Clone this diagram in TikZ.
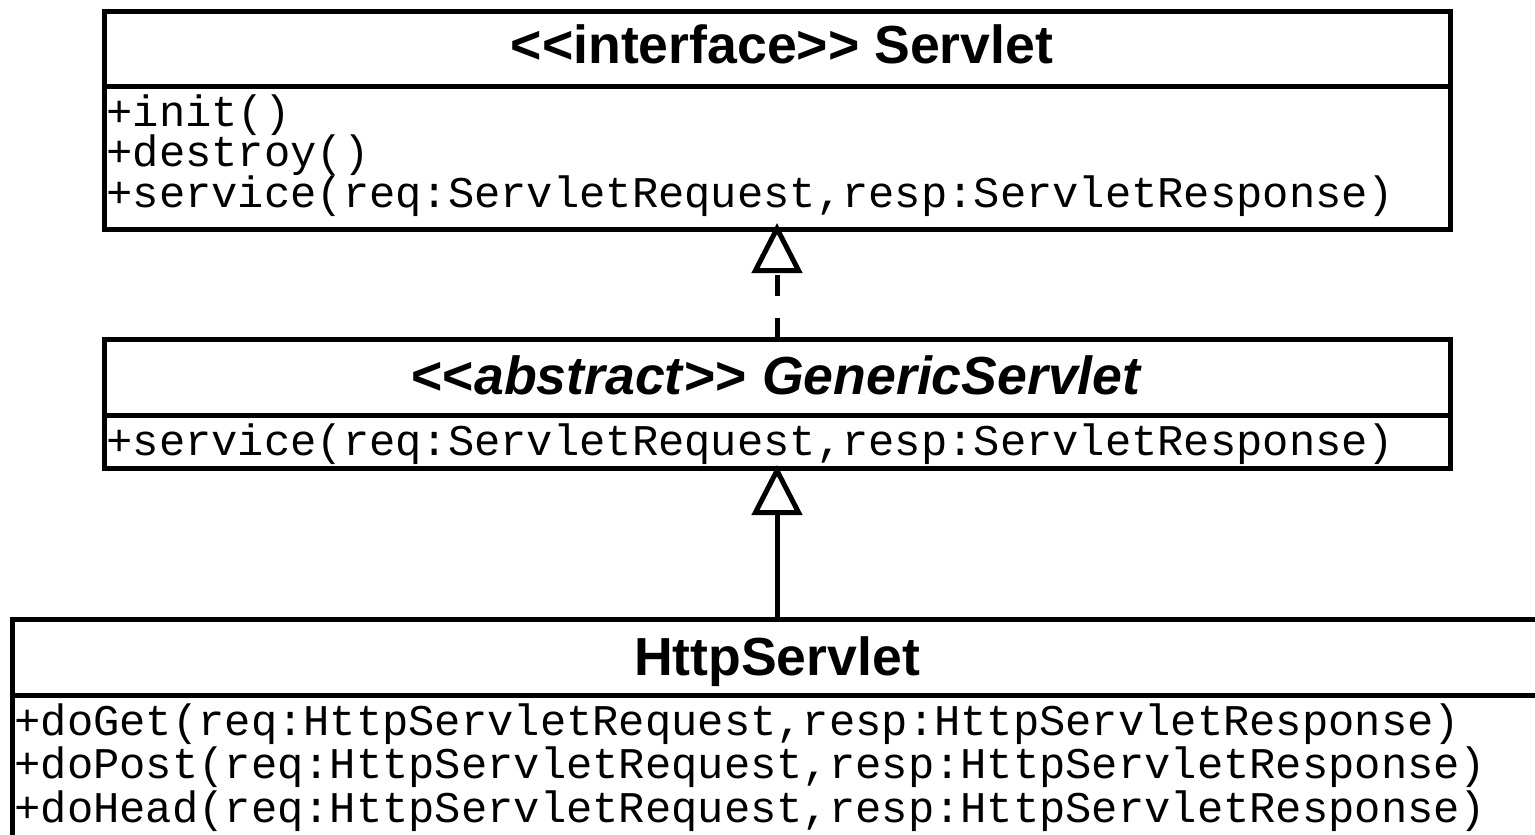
\documentclass[tikz,border=0pt]{standalone}
\usepackage{fontspec}
\setmainfont{Liberation Sans}
\newfontfamily\umlmono{Liberation Mono}
\usetikzlibrary{arrows.meta}
\newcommand{\lguil}{\mbox{<}\mbox{<}}
\newcommand{\rguil}{\mbox{>}\mbox{>}}
\tikzset{
  comp/.style={draw=black, line width=5pt, fill=white, inner sep=0pt, outer sep=0pt},
  titletext/.style={inner sep=0pt, outer sep=0pt, font=\fontsize{53.6}{60}\selectfont\bfseries},
  member/.style={inner sep=0pt, outer sep=0pt, anchor=base west, font=\fontsize{43.8}{44}\selectfont\umlmono},
  realizes/.style={line width=5pt, dash pattern=on 21pt off 22pt, shorten >=-6pt, -{Triangle[open, length=50pt, width=50pt, line join=miter]}},
  inherits/.style={line width=5pt, shorten >=-3pt, -{Triangle[open, length=50pt, width=50pt, line join=miter]}},
}
\begin{document}
\begin{tikzpicture}[x=1pt, y=-1pt]
\useasboundingbox (0,0) rectangle (1535,835);
\clip (0,0) rectangle (1535,835);
\fill[white] (0,0) rectangle (1535,835);

% Servlet
\node[comp, minimum width=1346pt, minimum height=75.5pt] (sTitle) at (777,48.75) {};
\node[comp, minimum width=1346pt, minimum height=142.5pt] (sBody) at (777,157.75) {};
\node[titletext, anchor=base] (sName) at (782,63.5) {\lguil interface\rguil{} Servlet};
\node[member] (sInit) at (106.5,126) {+init()};
\node[member] (sDestroy) at (106.5,166.5) {+destroy()};
\node[member] (sService) at (106.5,207) {+service(req:ServletRequest,resp:ServletResponse)};

% GenericServlet
\node[comp, minimum width=1346pt, minimum height=76pt] (gTitle) at (777,377) {};
\node[comp, minimum width=1346pt, minimum height=53pt] (gBody) at (777,441.5) {};
\node[titletext, anchor=base] (gName) at (777,394) {\lguil\textit{abstract}\rguil{} \textit{GenericServlet}};
\node[member] (gService) at (106.5,455) {+service(req:ServletRequest,resp:ServletResponse)};

% HttpServlet
\node[comp, minimum width=1600pt, minimum height=75.5pt] (hTitle) at (812,657.25) {};
\node[comp, minimum width=1600pt, minimum height=200pt] (hBody) at (812,795) {};
\node[titletext, anchor=base] (hName) at (777,675) {HttpServlet};
\node[member] (hGet) at (14.5,735) {+doGet(req:HttpServletRequest,resp:HttpServletResponse)};
\node[member] (hPost) at (14.5,778.5) {+doPost(req:HttpServletRequest,resp:HttpServletResponse)};
\node[member] (hHead) at (14.5,822) {+doHead(req:HttpServletRequest,resp:HttpServletResponse)};

% connectors
\draw[realizes] (gTitle.north -| sBody.south) -- (sBody.south);
\draw[inherits] (hTitle.north -| gBody.south) -- (gBody.south);
\end{tikzpicture}
\end{document}
